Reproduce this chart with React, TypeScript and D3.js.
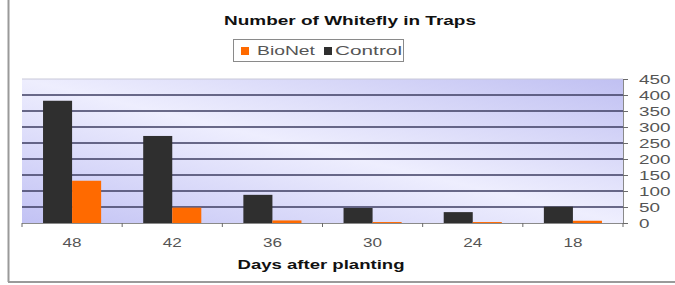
import React, { useRef, useEffect } from "react";
import * as d3 from "d3";

const days = ["48", "42", "36", "30", "24", "18"];
const control = [382, 272, 88, 47, 34, 51];
const bioNet = [132, 48, 8, 3, 3, 7];
const seriesNames = ["Control", "BioNet"];
const legendNames = ["BioNet", "Control"];
const yTicks = [0, 50, 100, 150, 200, 250, 300, 350, 400, 450];

const colors: Record<string, string> = { BioNet: "#ff6a00", Control: "#2f2f2f" };

export default function App() {
  const svgRef = useRef<SVGSVGElement>(null);

  useEffect(() => {
    d3.select(svgRef.current).selectAll("*").remove();
    const width = 675;
    const height = 285;
    const svg = d3.select(svgRef.current).attr("width", width).attr("height", height);
    const font = "Arial, 'Liberation Sans', sans-serif";

    // outer frame (only left & bottom visible)
    svg.append("rect").attr("width", width).attr("height", height).attr("fill", "#fff");
    svg.append("line").attr("x1", 8.5).attr("x2", 8.5).attr("y1", 0).attr("y2", 282)
      .attr("stroke", "#9a9a9a").attr("stroke-width", 2);
    svg.append("line").attr("x1", 8).attr("x2", width).attr("y1", 282).attr("y2", 282)
      .attr("stroke", "#9a9a9a").attr("stroke-width", 2);

    const left = 22, right = 623, top = 79, bottom = 223;

    const x = d3.scaleBand().domain(days).range([left, right]).paddingInner(0.42).paddingOuter(0.21);
    const xs = d3.scaleBand().domain(seriesNames).range([0, x.bandwidth()]);
    const y = d3.scaleLinear().domain([0, 450]).range([bottom, top]);

    // plot background gradient
    const defs = svg.append("defs");
    const grad = defs.append("linearGradient").attr("id", "bg")
      .attr("x1", 0).attr("y1", 1).attr("x2", 1).attr("y2", 0);
    grad.append("stop").attr("offset", "0%").attr("stop-color", "#c2c2f4");
    grad.append("stop").attr("offset", "50%").attr("stop-color", "#eeeefe");
    grad.append("stop").attr("offset", "100%").attr("stop-color", "#c0c0f2");
    svg.append("rect").attr("x", left).attr("y", top).attr("width", right - left)
      .attr("height", bottom - top).attr("fill", "url(#bg)");
    svg.append("line").attr("x1", left).attr("x2", right).attr("y1", top).attr("y2", top)
      .attr("stroke", "#c8c8d8");

    // gridlines
    svg.append("g").selectAll("line").data(yTicks.filter(t => t > 0 && t < 450)).join("line")
      .attr("x1", left).attr("x2", right)
      .attr("y1", d => y(d)).attr("y2", d => y(d))
      .attr("stroke", "#3c3c60").attr("stroke-width", 1.3);

    // bars
    const rows = days.map((d, i) => ({ day: d, Control: control[i], BioNet: bioNet[i] }));
    svg.append("g").selectAll("g").data(rows).join("g")
      .attr("transform", d => `translate(${x(d.day)},0)`)
      .selectAll("rect")
      .data(d => seriesNames.map(k => ({ key: k, value: (d as any)[k] as number })))
      .join("rect")
      .attr("x", d => xs(d.key)!)
      .attr("width", xs.bandwidth())
      .attr("y", d => y(d.value))
      .attr("height", d => bottom - y(d.value))
      .attr("fill", d => colors[d.key]);

    // x axis
    const xAxis = svg.append("g");
    xAxis.append("line").attr("x1", left).attr("x2", right).attr("y1", bottom + 0.5).attr("y2", bottom + 0.5)
      .attr("stroke", "#8a8a8a");
    const step = x.step();
    xAxis.selectAll("line.tick").data(d3.range(days.length + 1)).join("line")
      .attr("class", "tick")
      .attr("x1", i => left + i * step).attr("x2", i => left + i * step)
      .attr("y1", bottom).attr("y2", bottom + 4)
      .attr("stroke", "#6a6a6a");
    xAxis.selectAll("text").data(days).join("text")
      .attr("x", d => x(d)! + x.bandwidth() / 2)
      .attr("y", 247)
      .attr("text-anchor", "middle")
      .attr("font-family", font).attr("font-size", 12).attr("fill", "#555")
      .attr("textLength", 19).attr("lengthAdjust", "spacingAndGlyphs")
      .text(d => d);

    // y axis on the right
    const yAxis = svg.append("g");
    yAxis.append("line").attr("x1", right + 0.5).attr("x2", right + 0.5).attr("y1", top).attr("y2", bottom)
      .attr("stroke", "#8a8a8a");
    yAxis.selectAll("line.tick").data(yTicks).join("line")
      .attr("class", "tick")
      .attr("x1", right).attr("x2", right + 5)
      .attr("y1", d => y(d) + 0.5).attr("y2", d => y(d) + 0.5)
      .attr("stroke", "#6a6a6a");
    yAxis.selectAll("text").data(yTicks).join("text")
      .attr("x", 639)
      .attr("y", d => y(d) + 4.5)
      .attr("font-family", font).attr("font-size", 12).attr("fill", "#555")
      .attr("textLength", d => String(d).length * 10.5).attr("lengthAdjust", "spacingAndGlyphs")
      .text(d => d);

    // title
    svg.append("text").attr("x", 350).attr("y", 25).attr("text-anchor", "middle")
      .attr("font-family", font).attr("font-size", 12).attr("font-weight", "bold").attr("fill", "#111")
      .attr("textLength", 252).attr("lengthAdjust", "spacingAndGlyphs")
      .text("Number of Whitefly in Traps");

    // axis title
    svg.append("text").attr("x", 321).attr("y", 269).attr("text-anchor", "middle")
      .attr("font-family", font).attr("font-size", 12).attr("font-weight", "bold").attr("fill", "#111")
      .attr("textLength", 167).attr("lengthAdjust", "spacingAndGlyphs")
      .text("Days after planting");

    // legend
    const lg = svg.append("g");
    lg.append("rect").attr("x", 233.5).attr("y", 39.5).attr("width", 170).attr("height", 22)
      .attr("fill", "#fff").attr("stroke", "#8a8a8a");
    const legendPos = [{ sq: 241, tx: 257, tl: 58 }, { sq: 324, tx: 335, tl: 67 }];
    legendNames.forEach((name, i) => {
      lg.append("rect").attr("x", legendPos[i].sq).attr("y", 47).attr("width", 8).attr("height", 8)
        .attr("fill", colors[name]);
      lg.append("text").attr("x", legendPos[i].tx).attr("y", 55)
        .attr("font-family", font).attr("font-size", 12).attr("fill", "#555")
        .attr("textLength", legendPos[i].tl).attr("lengthAdjust", "spacingAndGlyphs")
        .text(name);
    });
  }, []);

  return (
    <div>
      <svg ref={svgRef} style={{ position: "absolute", left: 0, top: 0 }}></svg>
    </div>
  );
}
